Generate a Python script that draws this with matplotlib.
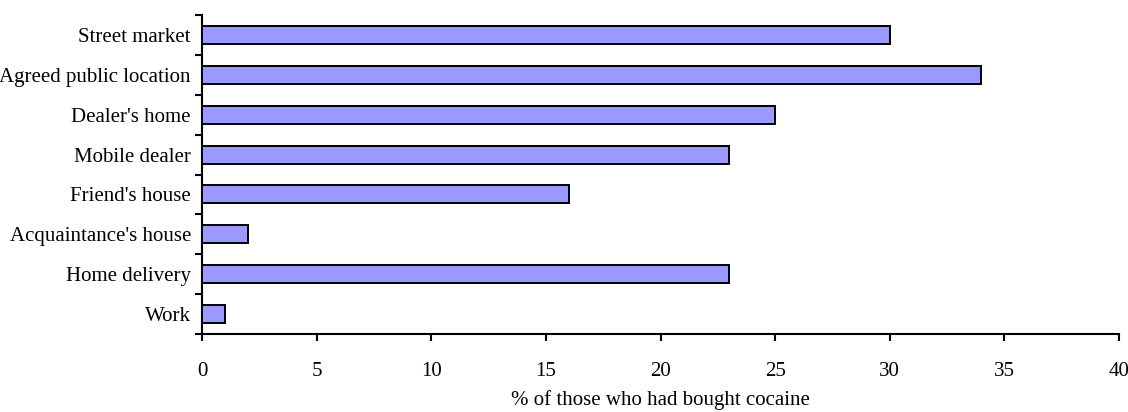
import matplotlib
matplotlib.use("Agg")
import matplotlib.pyplot as plt
import numpy as np

categories = ["Street market", "Agreed public location", "Dealer's home", "Mobile dealer",
              "Friend's house", "Acquaintance's house", "Home delivery", "Work"]
values = [30, 34, 25, 23, 16, 2, 23, 1]
xticks = [0, 5, 10, 15, 20, 25, 30, 35, 40]
xlabel = "% of those who had bought cocaine"

plt.rcParams['font.family'] = ['Liberation Serif', 'DejaVu Serif']

fig = plt.figure(figsize=(11.28, 4.12), dpi=100)
ax = fig.add_axes([202/1128, 1-334/412, (1119-202)/1128, (334-15)/412])

n = len(categories)
y = np.arange(n)
ax.barh(y, values, height=0.45, color="#9999FF", edgecolor="black", linewidth=1.4, zorder=3)
ax.set_ylim(n-0.5, -0.5)
ax.set_xlim(0, 40)
ax.set_yticks(y)
ax.set_yticklabels(categories, fontsize=15)
ax.set_yticks(np.arange(-0.5, n, 1), minor=True)
ax.tick_params(axis='y', which='major', length=0, pad=8)
ax.tick_params(axis='y', which='minor', length=5, width=1.5, direction='out')
ax.set_xticks(xticks)
ax.set_xticklabels([str(t) for t in xticks], fontsize=15)
ax.tick_params(axis='x', length=5, width=1.5, direction='out', pad=15)
ax.set_xlabel(xlabel, fontsize=15, labelpad=7)
for s in ['top', 'right']:
    ax.spines[s].set_visible(False)
for s in ['left', 'bottom']:
    ax.spines[s].set_linewidth(1.5)

fig.savefig("out.png", dpi=100)
